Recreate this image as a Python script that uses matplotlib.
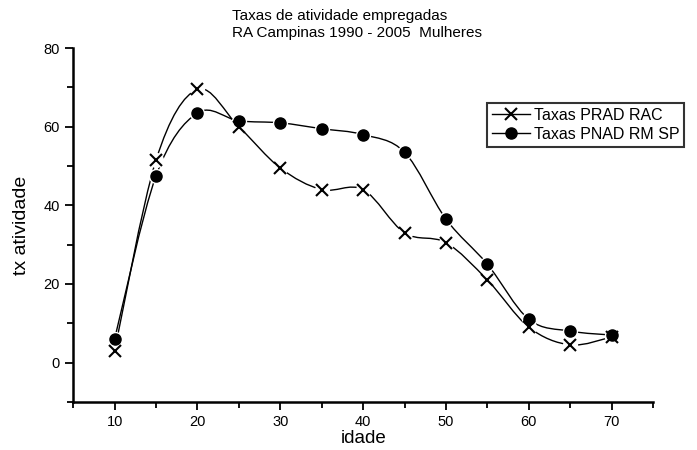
import matplotlib
matplotlib.use("Agg")
import matplotlib.pyplot as plt
from matplotlib.path import Path
from matplotlib.patches import PathPatch
from matplotlib.ticker import MultipleLocator
import numpy as np

plt.rcParams['font.family'] = ['Liberation Sans', 'DejaVu Sans']

idade = [10, 15, 20, 25, 30, 35, 40, 45, 50, 55, 60, 65, 70]
prad_rac = [3.0, 51.5, 69.5, 60.0, 49.5, 44.0, 44.0, 33.0, 30.5, 21.0, 9.0, 4.5, 6.5]
pnad_rmsp = [6.0, 47.5, 63.5, 61.5, 61.0, 59.5, 58.0, 53.5, 36.5, 25.0, 11.0, 8.0, 7.0]
labels = ["Taxas PRAD RAC", "Taxas PNAD RM SP"]
title_lines = ["Taxas de atividade empregadas", "RA Campinas 1990 - 2005  Mulheres"]

fig = plt.figure(figsize=(6.97, 4.5), dpi=100)
ax = fig.add_axes([0.105, 0.107, 0.832, 0.786])
ax.set_xlim(5, 75)
ax.set_ylim(-10, 80)


def smooth_path(xs, ys):
    pts = np.column_stack([xs, ys]).astype(float)
    n = len(pts)
    verts = [pts[0]]
    codes = [Path.MOVETO]
    for i in range(n - 1):
        p0 = pts[i - 1] if i > 0 else pts[i]
        p1 = pts[i]
        p2 = pts[i + 1]
        p3 = pts[i + 2] if i + 2 < n else pts[i + 1]
        c1 = p1 + (p2 - p0) / 6.0
        c2 = p2 - (p3 - p1) / 6.0
        verts += [c1, c2, p2]
        codes += [Path.CURVE4] * 3
    return Path(verts, codes)


for ys in (prad_rac, pnad_rmsp):
    ax.add_patch(PathPatch(smooth_path(idade, ys), facecolor='none',
                           edgecolor='black', lw=1.0, zorder=2))
    ax.plot(idade, ys, ls='none', marker='o', ms=11, mfc='white', mec='none', zorder=2.5)

ax.plot(idade, prad_rac, ls='none', marker='x', ms=8, mew=1.5, color='black', zorder=3)
ax.plot(idade, pnad_rmsp, ls='none', marker='o', ms=8, color='black', zorder=3)

# legend handles
h1, = ax.plot([], [], color='black', lw=1.0, marker='x', ms=8, mew=1.5)
h2, = ax.plot([], [], color='black', lw=1.0, marker='o', ms=8)
leg = fig.legend([h1, h2], labels, loc='upper left', bbox_to_anchor=(0.699, 0.771),
                 frameon=True, fancybox=False, edgecolor='black', fontsize=11.5,
                 handlelength=2.4, handletextpad=0.2, borderpad=0.3,
                 labelspacing=0.25, borderaxespad=0)
leg.get_frame().set_linewidth(1.5)

for s in ('top', 'right'):
    ax.spines[s].set_visible(False)
for s in ('left', 'bottom'):
    ax.spines[s].set_linewidth(1.8)

ax.set_xticks(range(10, 71, 10))
ax.set_yticks(range(0, 81, 20))
ax.xaxis.set_minor_locator(MultipleLocator(5))
ax.yaxis.set_minor_locator(MultipleLocator(10))
ax.tick_params(which='major', direction='out', length=6, width=1.3, labelsize=10.5)
ax.tick_params(which='minor', direction='out', length=4, width=1.3)

ax.set_xlabel('idade', fontsize=13.5, labelpad=1)
ax.set_ylabel('tx atividade', fontsize=14, labelpad=10)

fig.text(0.333, 0.965, title_lines[0], fontsize=11, ha='left', va='center')
fig.text(0.333, 0.926, title_lines[1], fontsize=11, ha='left', va='center')

fig.savefig('out.png', dpi=100, facecolor='white')
